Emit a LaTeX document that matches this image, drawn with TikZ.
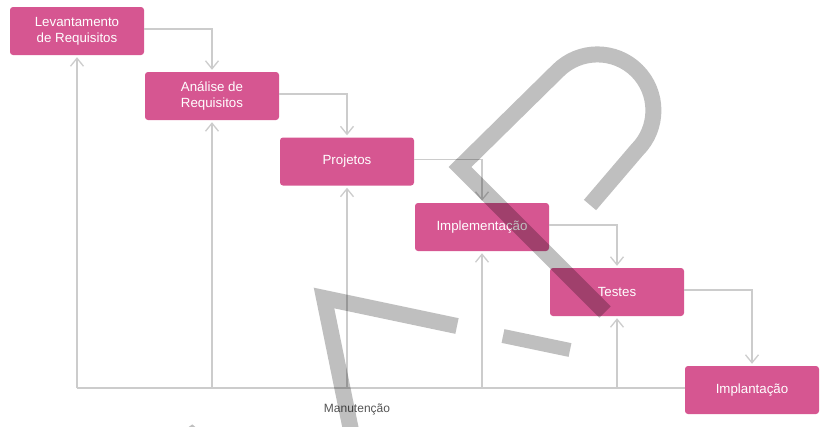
\documentclass[tikz,border=0pt]{standalone}
\usepackage{fontspec}
\setmainfont{Liberation Sans}
\usetikzlibrary{arrows.meta}
\definecolor{boxpink}{RGB}{214,86,145}
\definecolor{lineg}{RGB}{204,204,204}
\definecolor{labgray}{RGB}{85,85,85}
\begin{document}
\begin{tikzpicture}[x=1pt,y=-1pt,
  stepbox/.style={fill=boxpink, rounded corners=3pt, minimum width=134pt, minimum height=48pt,
    text=white, align=center, font=\fontsize{13.3}{16}\selectfont, inner sep=0pt},
  link/.style={draw=lineg, line width=1.3pt},
  arr/.style={link, shorten >=2pt, -{Straight Barb[length=8pt,width=13pt]}},
  wm/.style={draw=black, opacity=0.25, line width=16pt, line join=miter}]
\useasboundingbox (0,0) rectangle (829,426);
\node[stepbox] (b1) at (77,31) {Levantamento\\de Requisitos};
\node[stepbox] (b2) at (212,96) {Análise de\\Requisitos};
\node[stepbox] (b3) at (347,161.5) {Projetos};
\node[stepbox] (b4) at (482,227) {Implementação};
\node[stepbox] (b5) at (617,292) {Testes};
\node[stepbox] (b6) at (752,390) {Implantação};
\draw[arr] ([yshift=2pt]b1.east) -| (b2.north);
\draw[arr] ([yshift=2pt]b2.east) -| (b3.north);
\draw[arr] ([yshift=2pt]b3.east) -| (b4.north);
\draw[arr] ([yshift=2pt]b4.east) -| (b5.north);
\draw[arr] ([yshift=2pt]b5.east) -| (b6.north);
\coordinate (m0) at (77,388);
\draw[link] (m0) -- (m0 -| b6.west);
\draw[arr] (m0) -- (b1.south);
\draw[arr] (m0 -| b2.south) -- (b2.south);
\draw[arr] (m0 -| b3.south) -- (b3.south);
\draw[arr] (m0 -| b4.south) -- (b4.south);
\draw[arr] (m0 -| b5.south) -- (b5.south);
\node[text=labgray, font=\fontsize{12}{14}\selectfont] (man) at (357,409) {Manutenção};
\begin{scope}
\clip (0,0) rectangle (829,426);
\draw[wm] (590,205) -- (637,150) arc[start angle=45, end angle=-135, radius=56] -- (460,167) -- (605,312);
\draw[wm] (457,326) -- (324,298) -- (353,440);
\draw[wm, line width=14pt] (503,336) -- (570,350);
\draw[wm, line width=12pt] (178,442) -- (192,432) -- (204,442);
\end{scope}
\end{tikzpicture}
\end{document}
